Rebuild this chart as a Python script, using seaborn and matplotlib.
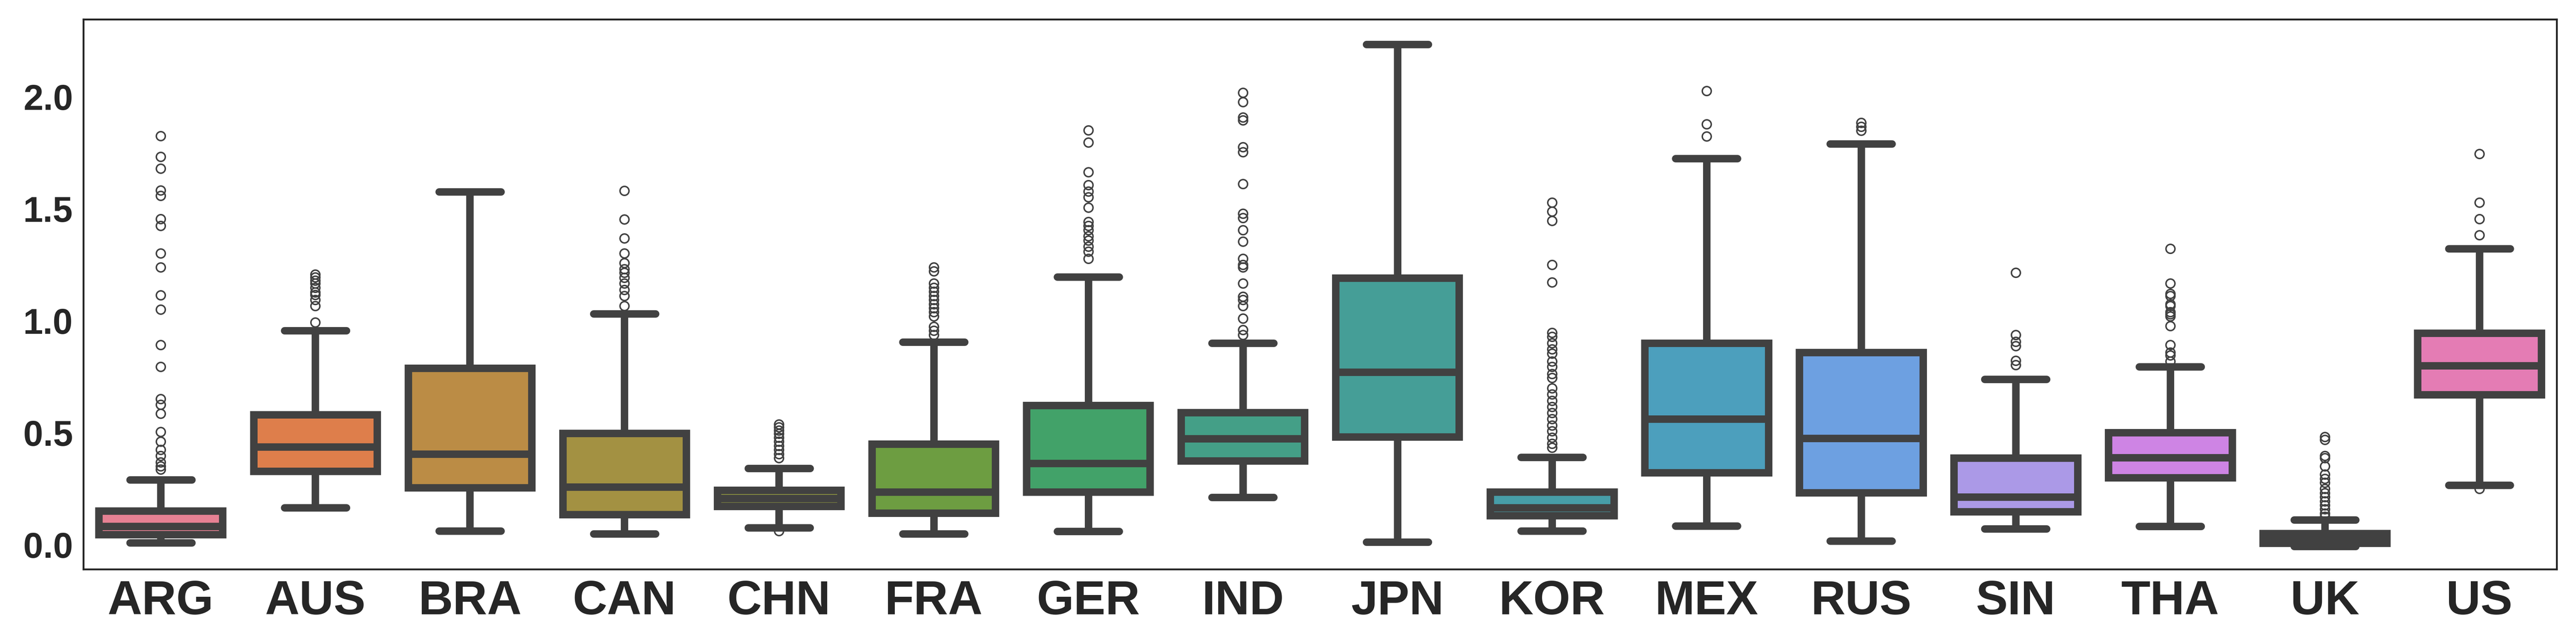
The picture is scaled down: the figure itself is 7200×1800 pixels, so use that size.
import numpy as np
import pandas as pd
import matplotlib
matplotlib.use("Agg")
import matplotlib.pyplot as plt
import seaborn as sns

countries = ["ARG", "AUS", "BRA", "CAN", "CHN", "FRA", "GER", "IND",
             "JPN", "KOR", "MEX", "RUS", "SIN", "THA", "UK", "US"]

whisker_lo = [0.009, 0.165, 0.062, 0.048, 0.075, 0.048, 0.059, 0.211,
              0.011, 0.062, 0.084, 0.016, 0.071, 0.082, -0.007, 0.265]
q1 = [0.046, 0.328, 0.255, 0.134, 0.172, 0.141, 0.236, 0.375,
      0.482, 0.130, 0.321, 0.232, 0.147, 0.299, 0.007, 0.670]
median = [0.082, 0.436, 0.405, 0.258, 0.207, 0.236, 0.363, 0.473,
          0.770, 0.165, 0.561, 0.475, 0.213, 0.389, 0.025, 0.799]
q3 = [0.150, 0.581, 0.788, 0.497, 0.243, 0.449, 0.621, 0.590,
      1.190, 0.236, 0.900, 0.858, 0.387, 0.500, 0.050, 0.945]
whisker_hi = [0.29, 0.955, 1.575, 1.03, 0.34, 0.905, 1.195, 0.90,
              2.233, 0.39, 1.723, 1.79, 0.739, 0.795, 0.11, 1.322]

outliers = [
    [1.824, 1.732, 1.679, 1.582, 1.558, 1.454, 1.424, 1.300, 1.239, 1.113,
     1.049, 0.891, 0.794, 0.651, 0.625, 0.585, 0.504, 0.460, 0.423, 0.396,
     0.368, 0.350, 0.336],
    [1.206, 1.193, 1.179, 1.166, 1.148, 1.126, 1.115, 1.093, 1.065, 0.992],
    [],
    [1.580, 1.452, 1.368, 1.300, 1.258, 1.230, 1.215, 1.192, 1.166, 1.137,
     1.111, 1.065],
    [0.537, 0.524, 0.510, 0.495, 0.478, 0.460, 0.442, 0.423, 0.405, 0.387,
     0.062],
    [1.239, 1.221, 1.166, 1.148, 1.129, 1.111, 1.093, 1.074, 1.056, 1.038,
     1.019, 0.973, 0.955, 0.937],
    [1.850, 1.795, 1.663, 1.606, 1.577, 1.551, 1.505, 1.441, 1.423, 1.404,
     1.377, 1.358, 1.331, 1.309, 1.276],
    [2.017, 1.976, 1.908, 1.895, 1.775, 1.753, 1.610, 1.478, 1.459, 1.404,
     1.353, 1.276, 1.249, 1.239, 1.166, 1.107, 1.093, 1.065, 1.010, 0.959,
     0.937],
    [],
    [1.527, 1.487, 1.446, 1.250, 1.171, 0.946, 0.928, 0.900, 0.873, 0.854,
     0.818, 0.794, 0.763, 0.744, 0.698, 0.671, 0.643, 0.616, 0.588, 0.561,
     0.533, 0.506, 0.478, 0.451, 0.433],
    [2.026, 1.877, 1.822],
    [1.884, 1.866, 1.848],
    [1.214, 0.937, 0.906, 0.887, 0.821, 0.803],
    [1.322, 1.166, 1.120, 1.111, 1.074, 1.065, 1.038, 1.029, 1.019, 0.977,
     0.891, 0.858, 0.845, 0.818],
    [0.482, 0.469, 0.396, 0.387, 0.350, 0.313, 0.295, 0.277, 0.249, 0.231,
     0.213, 0.194, 0.176, 0.158, 0.140, 0.125],
    [1.745, 1.527, 1.454, 1.382, 0.250],
]

# Build samples that reproduce the read box statistics
rows = []
for i, c in enumerate(countries):
    k = 3 * len(outliers[i]) + 4
    vals = ([whisker_lo[i]] * k + [q1[i]] * k + [median[i]] * k +
            [q3[i]] * k + [whisker_hi[i]] * k + list(outliers[i]))
    rows.extend((c, v) for v in vals)
df = pd.DataFrame(rows, columns=["country", "value"])

sns.set_style("white")
plt.rcParams["font.family"] = ["Liberation Sans", "DejaVu Sans"]

fig, ax = plt.subplots(figsize=(24, 6), dpi=300)
fig.subplots_adjust(left=0.0324, right=0.9925, top=0.97, bottom=0.116)

sns.boxplot(data=df, x="country", y="value", hue="country",
            palette="husl", legend=False, order=countries,
            linewidth=5, linecolor="#414141", fliersize=6, saturation=0.75,
            capprops={"solid_capstyle": "round"},
            ax=ax)

ax.set_ylim(-0.11, 2.345)
ax.set_xlim(-0.5, 15.5)
ax.set_xlabel("")
ax.set_ylabel("")
ax.set_yticks([0.0, 0.5, 1.0, 1.5, 2.0])
ax.set_yticklabels(["0.0", "0.5", "1.0", "1.5", "2.0"])
for lab in ax.get_xticklabels():
    lab.set_fontsize(32)
    lab.set_fontweight("bold")
for lab in ax.get_yticklabels():
    lab.set_fontsize(24)
    lab.set_fontweight("bold")
for s in ax.spines.values():
    s.set_color("#262626")
    s.set_linewidth(1.25)

fig.savefig("out.png", dpi=300)
